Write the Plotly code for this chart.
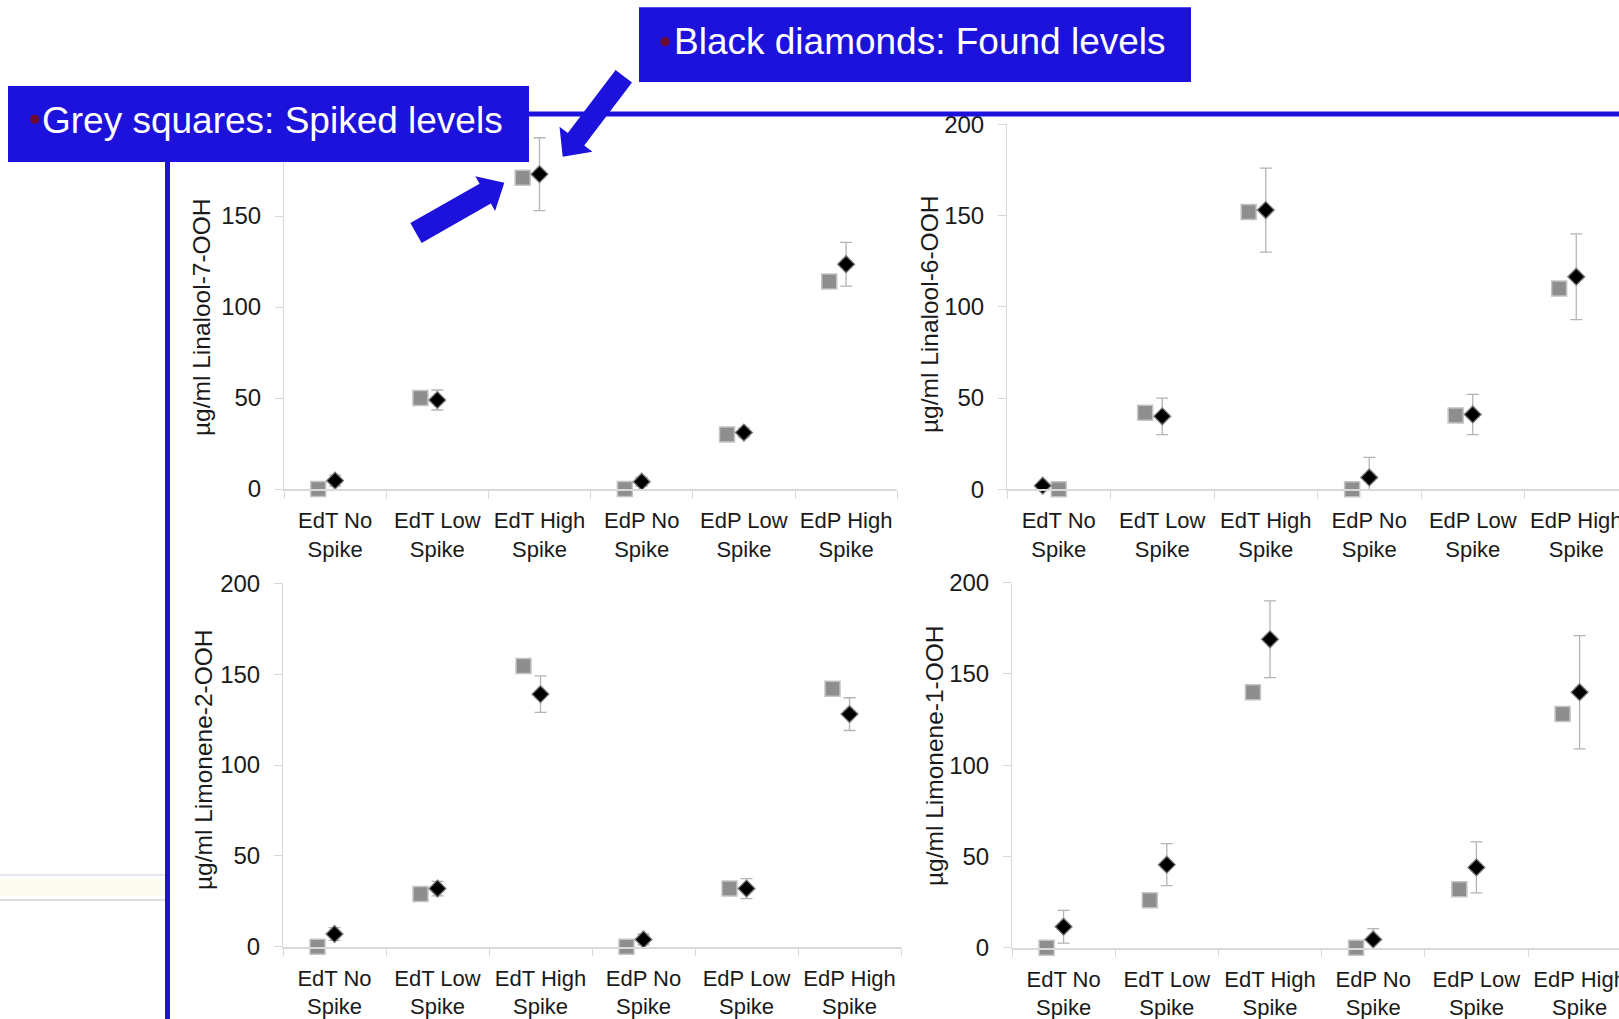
import plotly.graph_objects as go
import math

# ---------------- data ----------------
categories = ["EdT No<br>Spike", "EdT Low<br>Spike", "EdT High<br>Spike",
              "EdP No<br>Spike", "EdP Low<br>Spike", "EdP High<br>Spike"]
y_ticks = [0, 50, 100, 150, 200]
y_ticks_hidden_top = [0, 50, 100, 150]   # 200 label of first panel sits under the label box

titles = ["µg/ml Linalool-7-OOH", "µg/ml Linalool-6-OOH",
          "µg/ml Limonene-2-OOH", "µg/ml Limonene-1-OOH"]

lin7_spiked = [0, 50, 171, 0, 30, 114]
lin7_found = [4.6, 48.9, 173, 4, 31, 123.5]
lin7_err = [3, 5.5, 20, 2.5, 2.5, 12]

lin6_spiked = [0, 42, 152, 0, 40.5, 110]
lin6_found = [2, 40, 153, 6.5, 41, 116.5]
lin6_err = [0, 10, 23, 11, 11, 23.5]

lim2_spiked = [0, 29, 154.5, 0, 32, 142]
lim2_found = [7, 32, 139, 4, 32, 128]
lim2_err = [3.5, 4, 10, 3, 5.5, 9]

lim1_spiked = [0, 26, 140, 0, 32, 128]
lim1_found = [11.5, 45.5, 169, 4.5, 44, 140]
lim1_err = [9, 11.5, 21, 6, 14, 31]

label_spiked = "Grey squares: Spiked levels"
label_found = "Black diamonds: Found levels"

# ---------------- layout helpers ----------------
W, H = 1619, 1019
FONT = "Liberation Sans, Arial, Helvetica, sans-serif"
BLUE = "#1d12dc"
AXC = "#d9d9d9"


def px(x):
    return x / W


def py(y):
    return 1 - y / H


# panel geometry in pixels: (x_left, x_right, y_zero, y_200, x_range_max)
panels = [
    (284, 897.2, 489.0, 125.0, 6.0),
    (1007, 1619, 489.3, 124.3, (1619 - 1007) / 103.5),
    (283, 901, 946.7, 583.3, 6.0),
    (1012, 1619, 947.7, 582.7, (1619 - 1012) / 103.2),
]
panel_ticks = [y_ticks_hidden_top, y_ticks, y_ticks, y_ticks]
title_pos = [(201, 318), (929, 315), (203, 760), (934, 756)]

SQ_OFF = -0.165
sq_offsets = [[SQ_OFF] * 6, [0.0] + [SQ_OFF] * 5, [SQ_OFF] * 6, [SQ_OFF] * 6]
dm_offsets = [[0.0] * 6, [-0.155] + [0.0] * 5, [0.0] * 6, [0.0] * 6]

series = [
    (lin7_spiked, lin7_found, lin7_err),
    (lin6_spiked, lin6_found, lin6_err),
    (lim2_spiked, lim2_found, lim2_err),
    (lim1_spiked, lim1_found, lim1_err),
]

fig = go.Figure()

for i, ((spk, fnd, err), geo) in enumerate(zip(series, panels)):
    sfx = "" if i == 0 else str(i + 1)
    xa, ya = "x" + sfx, "y" + sfx
    xs = [k + 0.5 + o for k, o in enumerate(sq_offsets[i])]
    xd = [k + 0.5 + o for k, o in enumerate(dm_offsets[i])]
    fig.add_trace(go.Scatter(
        x=xs, y=spk, mode="markers", xaxis=xa, yaxis=ya, name=label_spiked,
        showlegend=False, cliponaxis=False,
        marker=dict(symbol="square", size=15, color="#8e8e8e",
                    line=dict(color="#c4c4c4", width=1.5)),
    ))
    fig.add_trace(go.Scatter(
        x=xd, y=fnd, mode="markers", xaxis=xa, yaxis=ya, name=label_found,
        showlegend=False, cliponaxis=False,
        error_y=dict(type="data", array=err, visible=True, color="#b4b4b4",
                     thickness=1.3, width=6),
        marker=dict(symbol="diamond", size=13, color="#000000",
                    line=dict(color="#7a7a7a", width=1.3)),
    ))

    xl, xr, y0, y200, rmax = geo
    fig.layout["xaxis" + sfx] = dict(
        domain=[px(xl), px(xr)], range=[0, rmax], anchor=ya,
        tickmode="array", tickvals=[k + 0.5 for k in range(6)], ticktext=categories,
        ticks="", showgrid=False, zeroline=False, showline=True,
        linecolor=AXC, linewidth=1.5, ticklabelstandoff=11,
        ticklabeloverflow="allow", automargin=False,
        tickfont=dict(family=FONT, size=22, color="#1a1a1a"),
        minor=dict(tickmode="array", tickvals=list(range(7)), ticks="outside",
                   ticklen=8, tickcolor=AXC, tickwidth=1, showgrid=False),
        fixedrange=True,
    )
    fig.layout["yaxis" + sfx] = dict(
        domain=[py(y0), py(y200)], range=[0, 200], anchor=xa,
        tickmode="array", tickvals=panel_ticks[i], ticks="outside", ticklen=8,
        tickcolor=AXC, tickwidth=1, showgrid=False, zeroline=False,
        showline=True, linecolor=AXC, linewidth=1, ticklabelstandoff=9,
        ticklabeloverflow="allow", automargin=False,
        tickfont=dict(family=FONT, size=24, color="#1a1a1a"),
        fixedrange=True,
    )

annotations = []
for t, (tx, ty) in zip(titles, title_pos):
    annotations.append(dict(
        text=t, x=px(tx), y=py(ty), xref="paper", yref="paper",
        xanchor="center", yanchor="middle", textangle=-90, showarrow=False,
        font=dict(family=FONT, size=24.5, color="#1a1a1a"),
    ))

shapes = []
# decorative faint streaks at left
shapes.append(dict(type="rect", xref="paper", yref="paper", x0=px(0), x1=px(165),
                   y0=py(896), y1=py(879), fillcolor="#fbfbf2", line=dict(width=0),
                   layer="below"))
shapes.append(dict(type="line", xref="paper", yref="paper", x0=px(0), x1=px(165),
                   y0=py(875), y1=py(875), line=dict(color="#e3e7ee", width=2),
                   layer="below"))
shapes.append(dict(type="line", xref="paper", yref="paper", x0=px(0), x1=px(165),
                   y0=py(900), y1=py(900), line=dict(color="#dedede", width=2),
                   layer="below"))
# blue slide lines
shapes.append(dict(type="rect", xref="paper", yref="paper", x0=px(165), x1=px(170),
                   y0=py(H), y1=py(150), fillcolor=BLUE, line=dict(width=0),
                   layer="above"))
shapes.append(dict(type="rect", xref="paper", yref="paper", x0=px(500), x1=px(W),
                   y0=py(116.5), y1=py(111.5), fillcolor=BLUE, line=dict(width=0),
                   layer="above"))
# label boxes
shapes.append(dict(type="rect", xref="paper", yref="paper", x0=px(8), x1=px(529),
                   y0=py(162), y1=py(86), fillcolor=BLUE, line=dict(width=0),
                   layer="above"))
shapes.append(dict(type="rect", xref="paper", yref="paper", x0=px(639), x1=px(1191),
                   y0=py(82), y1=py(7.3), fillcolor=BLUE, line=dict(width=0),
                   layer="above"))
# bullets
for bx, by in [(34.7, 119.3), (665, 41.7)]:
    shapes.append(dict(type="circle", xref="paper", yref="paper",
                       x0=px(bx - 4.6), x1=px(bx + 4.6), y0=py(by + 4.6), y1=py(by - 4.6),
                       fillcolor="#6b0a2e", line=dict(width=0), layer="above"))


def arrow_path(tail, tip, shaft_hw, head_hw, head_len):
    dx, dy = tip[0] - tail[0], tip[1] - tail[1]
    L = math.hypot(dx, dy)
    ux, uy = dx / L, dy / L
    nx, ny = -uy, ux
    bx, by = tip[0] - ux * head_len, tip[1] - uy * head_len
    pts = [
        (tail[0] + nx * shaft_hw, tail[1] + ny * shaft_hw),
        (bx + nx * shaft_hw, by + ny * shaft_hw),
        (bx + nx * head_hw, by + ny * head_hw),
        tip,
        (bx - nx * head_hw, by - ny * head_hw),
        (bx - nx * shaft_hw, by - ny * shaft_hw),
        (tail[0] - nx * shaft_hw, tail[1] - ny * shaft_hw),
    ]
    return "M " + " L ".join(f"{px(a):.5f},{py(b):.5f}" for a, b in pts) + " Z"


shapes.append(dict(type="path", xref="paper", yref="paper",
                   path=arrow_path((416, 233), (504.3, 182.7), 11.4, 20, 22),
                   fillcolor=BLUE, line=dict(width=0), layer="above"))
shapes.append(dict(type="path", xref="paper", yref="paper",
                   path=arrow_path((623.8, 76.3), (562.7, 156.7), 10.3, 20.7, 22),
                   fillcolor=BLUE, line=dict(width=0), layer="above"))

annotations.append(dict(text=label_spiked, x=px(40), y=py(120.8), xref="paper", yref="paper",
                        xanchor="left", yanchor="middle", showarrow=False,
                        font=dict(family=FONT, size=37, color="white")))
annotations.append(dict(text=label_found, x=px(671.5), y=py(41.2), xref="paper", yref="paper",
                        xanchor="left", yanchor="middle", showarrow=False,
                        font=dict(family=FONT, size=37, color="white")))

fig.update_layout(
    width=W, height=H, margin=dict(l=0, r=0, t=0, b=0, pad=0, autoexpand=False),
    paper_bgcolor="white", plot_bgcolor="white",
    showlegend=False, shapes=shapes, annotations=annotations,
    font=dict(family=FONT),
)

fig.write_html("out.html", config={"displayModeBar": False},
               post_script="document.body.style.margin='0';document.body.style.overflow='hidden';")
